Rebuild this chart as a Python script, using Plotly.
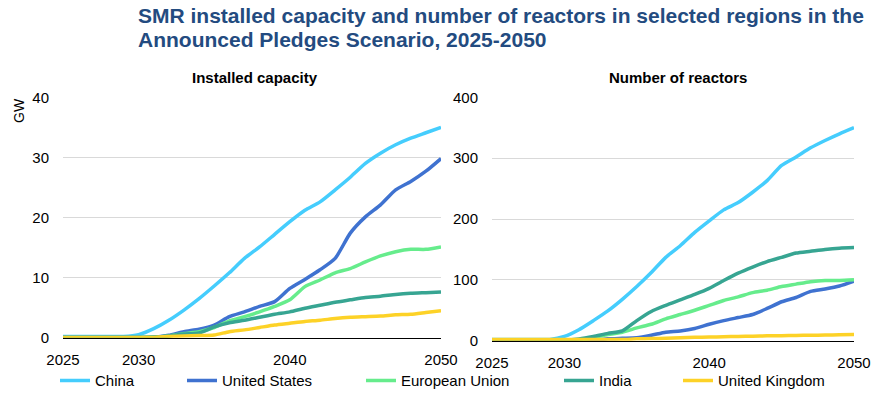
import plotly.graph_objects as go

years = list(range(2025, 2051))
x_ticks = [2025, 2030, 2040, 2050]

series_names = ["China", "United States", "European Union", "India", "United Kingdom"]
series_colors = ["#45cdfd", "#3f72d0", "#66ec8c", "#37a592", "#fdd227"]

# Installed capacity (GW)
cap_china = [0.2, 0.2, 0.2, 0.2, 0.2, 0.5, 1.5, 2.9, 4.6, 6.5, 8.6, 10.8, 13.2, 15.1, 17.2, 19.3,
             21.2, 22.6, 24.6, 26.7, 29.0, 30.7, 32.1, 33.2, 34.1, 35.0]
cap_us = [0.05, 0.05, 0.05, 0.05, 0.05, 0.05, 0.05, 0.4, 1.0, 1.4, 2.1, 3.5, 4.3, 5.2, 6.0, 8.2,
          9.7, 11.3, 13.2, 17.4, 20.1, 22.1, 24.6, 26.0, 27.7, 29.8]
cap_eu = [0.05, 0.05, 0.05, 0.05, 0.05, 0.05, 0.1, 0.3, 0.7, 1.0, 1.7, 2.8, 3.5, 4.3, 5.2, 6.3,
          8.5, 9.6, 10.8, 11.5, 12.6, 13.6, 14.3, 14.7, 14.7, 15.1]
cap_india = [0.05, 0.05, 0.05, 0.05, 0.05, 0.05, 0.1, 0.3, 0.6, 0.8, 1.8, 2.5, 2.9, 3.4, 3.9, 4.3,
             4.9, 5.4, 5.9, 6.3, 6.7, 6.9, 7.2, 7.4, 7.5, 7.6]
cap_uk = [0.05, 0.05, 0.05, 0.05, 0.05, 0.05, 0.05, 0.2, 0.3, 0.35, 0.45, 1.0, 1.3, 1.7, 2.1, 2.4,
          2.7, 2.9, 3.2, 3.4, 3.5, 3.6, 3.8, 3.9, 4.2, 4.5]

# Number of reactors
num_china = [2, 2, 2, 2, 2, 7, 18, 33, 49, 68, 89, 112, 137, 156, 178, 197,
             215, 227, 244, 263, 288, 302, 317, 329, 340, 350]
num_us = [1, 1, 1, 1, 1, 1, 1, 1, 3, 4, 5, 9, 14, 16, 20, 27,
          33, 38, 43, 53, 64, 71, 81, 85, 90, 98]
num_eu = [1, 1, 1, 1, 1, 1, 1, 5, 10, 14, 21, 27, 36, 43, 50, 58,
          66, 72, 79, 83, 89, 93, 97, 99, 99, 100]
num_india = [1, 1, 1, 1, 1, 1, 3, 7, 12, 16, 33, 48, 58, 67, 76, 86,
             99, 111, 121, 130, 137, 144, 147, 150, 152, 153]
num_uk = [2, 2, 2, 2, 2, 2, 2, 2, 2, 2, 3, 3.5, 4, 5, 5.5, 6,
          6.5, 7, 7.5, 8, 8.3, 8.6, 9, 9.3, 9.7, 10]

cap_series = [cap_china, cap_us, cap_eu, cap_india, cap_uk]
num_series = [num_china, num_us, num_eu, num_india, num_uk]

title_lines = ["SMR installed capacity and number of reactors in selected regions in the",
               "Announced Pledges Scenario, 2025-2050"]
panel_titles = ["Installed capacity", "Number of reactors"]

W, H = 888, 395
FONT = "Liberation Sans, Arial, sans-serif"

def px_x(p):
    return p / W

def px_y(p):
    return 1 - p / H

fig = go.Figure()
legend_ids = ["legend", "legend2", "legend3", "legend4", "legend5"]
for i, name in enumerate(series_names):
    fig.add_trace(go.Scatter(x=years, y=cap_series[i], name=name, mode="lines",
                             line=dict(color=series_colors[i], width=3.5, shape="spline", smoothing=0.6),
                             xaxis="x", yaxis="y", legend=legend_ids[i], showlegend=True))
for i, name in enumerate(series_names):
    fig.add_trace(go.Scatter(x=years, y=num_series[i], name=name, mode="lines",
                             line=dict(color=series_colors[i], width=3.5, shape="spline", smoothing=0.6),
                             xaxis="x2", yaxis="y2", showlegend=False))

axis_font = dict(family=FONT, size=15, color="#000000")
xcommon = dict(range=[2025, 2050], tickvals=x_ticks, ticktext=[str(v) for v in x_ticks],
               showgrid=False, zeroline=False, showline=True, linecolor="#000000", linewidth=1.5,
               ticks="", tickfont=axis_font, ticklabelstandoff=8, layer="below traces",
               fixedrange=True, automargin=False)
ycommon = dict(showgrid=True, gridcolor="#d9d9d9", gridwidth=1, zeroline=False, showline=False,
               ticks="", tickfont=axis_font, ticklabelstandoff=13, layer="below traces",
               fixedrange=True, automargin=False)

legend_x = [64, 191, 370, 568, 687]
legends = {}
for i, lid in enumerate(legend_ids):
    legends[lid] = dict(x=px_x(legend_x[i] - 9), xanchor="left", y=px_y(380.7), yanchor="middle",
                        orientation="h", bgcolor="rgba(0,0,0,0)", borderwidth=0,
                        font=dict(family=FONT, size=15, color="#000000"), itemwidth=30)

title_font = dict(family=FONT, size=21, color="#234b80", weight="bold")

fig.update_layout(
    width=W, height=H,
    margin=dict(l=0, r=0, t=0, b=0, pad=0, autoexpand=False),
    paper_bgcolor="#ffffff", plot_bgcolor="#ffffff",
    font=dict(family=FONT, size=15, color="#000000"),
    xaxis=dict(domain=[px_x(63), px_x(441)], anchor="y", **xcommon),
    yaxis=dict(domain=[px_y(337.7), px_y(97.3)], anchor="x", range=[0, 40],
               tickvals=[0, 10, 20, 30, 40], **ycommon),
    xaxis2=dict(domain=[px_x(492), px_x(854)], anchor="y2", **xcommon),
    yaxis2=dict(domain=[px_y(340.7), px_y(97.3)], anchor="x2", range=[0, 400],
                tickvals=[0, 100, 200, 300, 400], **ycommon),
    **legends,
    annotations=[
        dict(text=title_lines[0], x=px_x(136), y=px_y(15.5), xref="paper", yref="paper",
             xanchor="left", yanchor="middle", showarrow=False, font=title_font),
        dict(text=title_lines[1], x=px_x(136), y=px_y(39.7), xref="paper", yref="paper",
             xanchor="left", yanchor="middle", showarrow=False, font=title_font),
        dict(text="<b>" + panel_titles[0] + "</b>", x=px_x(255), y=px_y(77), xref="paper", yref="paper",
             xanchor="center", yanchor="middle", showarrow=False,
             font=dict(family=FONT, size=15, color="#000000")),
        dict(text="<b>" + panel_titles[1] + "</b>", x=px_x(678), y=px_y(77), xref="paper", yref="paper",
             xanchor="center", yanchor="middle", showarrow=False,
             font=dict(family=FONT, size=15, color="#000000")),
        dict(text="GW", x=px_x(19), y=px_y(111), xref="paper", yref="paper",
             xanchor="center", yanchor="middle", showarrow=False, textangle=-90,
             font=dict(family=FONT, size=14, color="#000000")),
    ],
)

fig.write_html("out.html", config={"displayModeBar": False, "staticPlot": True},
               post_script="document.body.style.margin='0';document.body.style.padding='0';"
                           "document.body.style.overflow='hidden';")
